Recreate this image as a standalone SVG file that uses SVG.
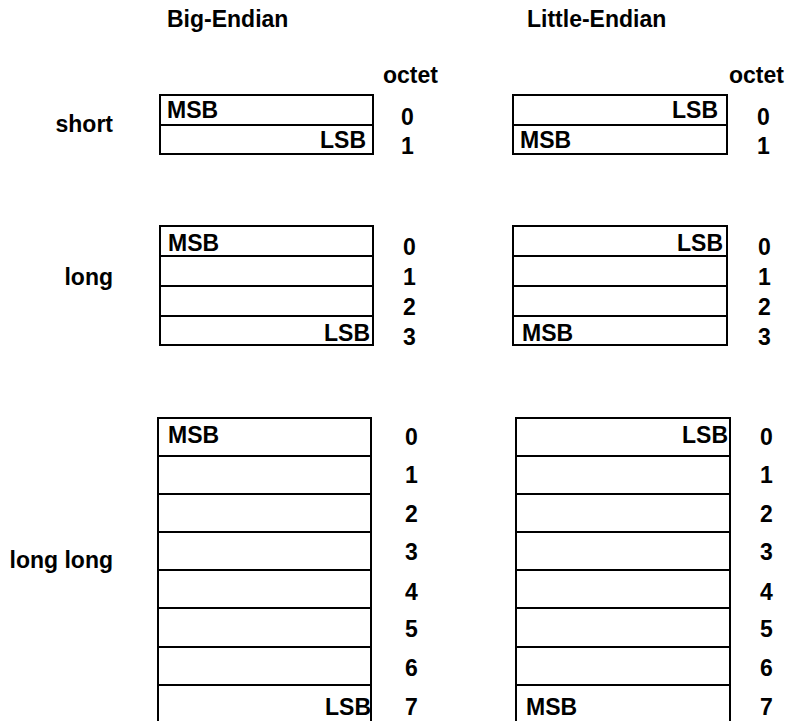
<svg xmlns="http://www.w3.org/2000/svg" width="796" height="721" viewBox="0 0 796 721">
<style>
text{font-family:"Liberation Sans",Arial,sans-serif;font-weight:bold;font-size:23px;fill:#000}
.e{text-anchor:end}
.box{fill:#fff;stroke:#000;stroke-width:2}
.div{stroke:#000;stroke-width:2}
</style>
<rect width="796" height="721" fill="#fff"/>
<g id="headers">
<text x="167" y="27">Big-Endian</text>
<text x="527" y="27">Little-Endian</text>
<text x="383" y="83">octet</text>
<text x="729" y="83">octet</text>
</g>
<g id="labels">
<text class="e" x="113" y="132">short</text>
<text class="e" x="113" y="285">long</text>
<text class="e" x="113" y="568">long long</text>
</g>
<g id="be-short">
<rect class="box" x="160" y="95" width="213" height="59"/>
<line class="div" x1="160" y1="125" x2="373" y2="125"/>
<text x="167" y="118">MSB</text>
<text class="e" x="366" y="148">LSB</text>
<text x="401" y="125">0</text>
<text x="401" y="154">1</text>
</g>
<g id="le-short">
<rect class="box" x="513" y="95" width="214" height="59"/>
<line class="div" x1="513" y1="125" x2="727" y2="125"/>
<text class="e" x="718" y="118">LSB</text>
<text x="520" y="148">MSB</text>
<text x="757" y="125">0</text>
<text x="757" y="154">1</text>
</g>
<g id="be-long">
<rect class="box" x="160" y="226" width="213" height="119"/>
<path class="div" d="M160 256H373M160 286H373M160 316H373"/>
<text x="168" y="251">MSB</text>
<text class="e" x="370" y="341">LSB</text>
<text x="403" y="255">0</text>
<text x="403" y="285">1</text>
<text x="403" y="315">2</text>
<text x="403" y="345">3</text>
</g>
<g id="le-long">
<rect class="box" x="513" y="226" width="214" height="119"/>
<path class="div" d="M513 256H727M513 286H727M513 316H727"/>
<text class="e" x="723" y="251">LSB</text>
<text x="522" y="341">MSB</text>
<text x="758" y="255">0</text>
<text x="758" y="285">1</text>
<text x="758" y="315">2</text>
<text x="758" y="345">3</text>
</g>
<g id="be-longlong">
<rect class="box" x="158" y="418" width="213" height="305"/>
<path class="div" d="M158 456H371M158 494H371M158 532H371M158 570H371M158 608H371M158 647H371M158 685H371"/>
<text x="168" y="443">MSB</text>
<text class="e" x="371" y="715">LSB</text>
<text x="405" y="445">0</text>
<text x="405" y="483">1</text>
<text x="405" y="522">2</text>
<text x="405" y="560">3</text>
<text x="405" y="600">4</text>
<text x="405" y="637">5</text>
<text x="405" y="676">6</text>
<text x="405" y="715">7</text>
</g>
<g id="le-longlong">
<rect class="box" x="516" y="418" width="214" height="305"/>
<path class="div" d="M516 456H730M516 494H730M516 532H730M516 570H730M516 608H730M516 647H730M516 685H730"/>
<text class="e" x="728" y="443">LSB</text>
<text x="526" y="715">MSB</text>
<text x="760" y="445">0</text>
<text x="760" y="483">1</text>
<text x="760" y="522">2</text>
<text x="760" y="560">3</text>
<text x="760" y="600">4</text>
<text x="760" y="637">5</text>
<text x="760" y="676">6</text>
<text x="760" y="715">7</text>
</g>
<g id="connectors"/>
</svg>
